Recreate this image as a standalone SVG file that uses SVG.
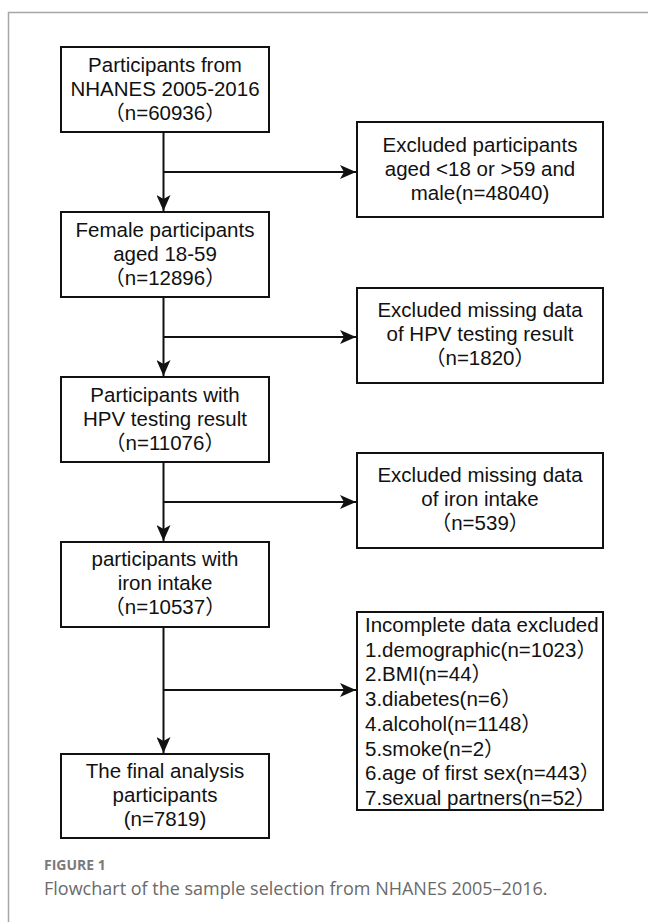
<svg xmlns="http://www.w3.org/2000/svg" width="648" height="922" viewBox="0 0 648 922">
<style>
.box{fill:#fff;stroke:#111;stroke-width:2}
.t{font-family:"Liberation Sans","Noto Sans CJK SC",Arial,sans-serif;font-size:20.5px;fill:#111;text-anchor:middle}
.l{font-family:"Liberation Sans","Noto Sans CJK SC",Arial,sans-serif;font-size:20.5px;fill:#111}
.c{stroke:#111;stroke-width:2;fill:none}
.frame{stroke:#a6a6a6;stroke-width:1.5;fill:none}
.fig{font-family:"Open Sans","Noto Sans",sans-serif;font-weight:bold;font-size:14px;fill:#7a7a7a}
.cap{font-family:"Open Sans","Noto Sans",sans-serif;font-size:18px;fill:#6a6a6a}
</style>
<defs>
<marker id="ah" markerUnits="userSpaceOnUse" markerWidth="17" markerHeight="14" refX="16" refY="7" orient="auto">
<path d="M0,0 L16,7 L0,14 L4,7 z" fill="#111"/>
</marker>
</defs>
<rect width="648" height="922" fill="#fff"/>
<path class="frame" d="M8.5,922 V12.5 H648"/>
<g id="connectors">
<line class="c" x1="163.5" y1="132" x2="163.5" y2="211" marker-end="url(#ah)"/>
<line class="c" x1="163.5" y1="172" x2="356" y2="172" marker-end="url(#ah)"/>
<line class="c" x1="163.5" y1="297" x2="163.5" y2="376" marker-end="url(#ah)"/>
<line class="c" x1="163.5" y1="337" x2="356" y2="337" marker-end="url(#ah)"/>
<line class="c" x1="163.5" y1="462" x2="163.5" y2="541" marker-end="url(#ah)"/>
<line class="c" x1="163.5" y1="502" x2="356" y2="502" marker-end="url(#ah)"/>
<line class="c" x1="163.5" y1="627" x2="163.5" y2="753" marker-end="url(#ah)"/>
<line class="c" x1="163.5" y1="690" x2="356" y2="690" marker-end="url(#ah)"/>
</g>
<g id="n1">
<rect class="box" x="61" y="47" width="208" height="85"/>
<text class="t" x="165" y="72">Participants from</text>
<text class="t" x="165" y="96">NHANES 2005-2016</text>
<text class="t" x="165" y="120">（n=60936）</text>
</g>
<g id="n2">
<rect class="box" x="61" y="212" width="208" height="85"/>
<text class="t" x="165" y="237">Female participants</text>
<text class="t" x="165" y="261">aged 18-59</text>
<text class="t" x="165" y="285">（n=12896）</text>
</g>
<g id="n3">
<rect class="box" x="61" y="377" width="208" height="85"/>
<text class="t" x="165" y="402">Participants with</text>
<text class="t" x="165" y="426">HPV testing result</text>
<text class="t" x="165" y="450">（n=11076）</text>
</g>
<g id="n4">
<rect class="box" x="61" y="542" width="208" height="85"/>
<text class="t" x="165" y="566">participants with</text>
<text class="t" x="165" y="590">iron intake</text>
<text class="t" x="165" y="614">（n=10537）</text>
</g>
<g id="n5">
<rect class="box" x="61" y="754" width="208" height="84"/>
<text class="t" x="165" y="778">The final analysis</text>
<text class="t" x="165" y="802">participants</text>
<text class="t" x="165" y="826">(n=7819)</text>
</g>
<g id="e1">
<rect class="box" x="357" y="122" width="246" height="95"/>
<text class="t" x="480" y="152">Excluded participants</text>
<text class="t" x="480" y="176">aged &lt;18 or &gt;59 and</text>
<text class="t" x="480" y="200">male(n=48040)</text>
</g>
<g id="e2">
<rect class="box" x="357" y="288" width="246" height="95"/>
<text class="t" x="480" y="317">Excluded missing data</text>
<text class="t" x="480" y="341">of HPV testing result</text>
<text class="t" x="480" y="365">（n=1820）</text>
</g>
<g id="e3">
<rect class="box" x="357" y="453" width="246" height="95"/>
<text class="t" x="480" y="482">Excluded missing data</text>
<text class="t" x="480" y="506">of iron intake</text>
<text class="t" x="480" y="530">（n=539）</text>
</g>
<g id="e4">
<rect class="box" x="357" y="612" width="246" height="198"/>
<text class="l" x="365" y="632">Incomplete data excluded</text>
<text class="l" x="365" y="656.7">1.demographic(n=1023）</text>
<text class="l" x="365" y="681.4">2.BMI(n=44）</text>
<text class="l" x="365" y="706.1">3.diabetes(n=6）</text>
<text class="l" x="365" y="730.8">4.alcohol(n=1148）</text>
<text class="l" x="365" y="755.5">5.smoke(n=2）</text>
<text class="l" x="365" y="780.2">6.age of first sex(n=443）</text>
<text class="l" x="365" y="805">7.sexual partners(n=52）</text>
</g>
<text class="fig" x="44" y="870">FIGURE 1</text>
<text class="cap" x="44" y="895">Flowchart of the sample selection from NHANES 2005–2016.</text>
</svg>
